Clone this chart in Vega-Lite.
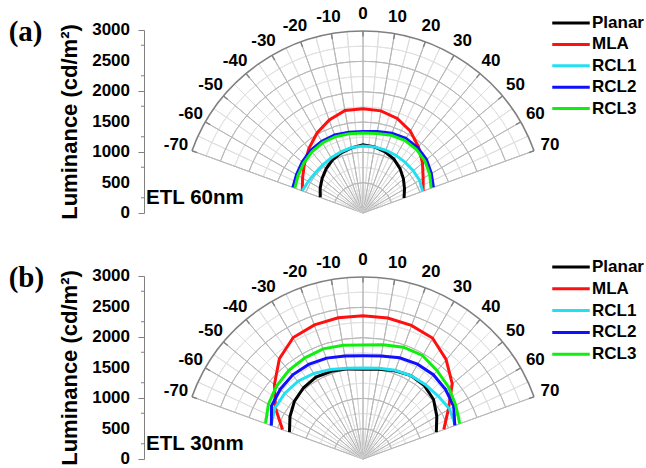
{
  "$schema": "https://vega.github.io/schema/vega-lite/v6.json",
  "background": "white",
  "padding": {"left": 8, "top": 5, "right": 0, "bottom": 0},
  "config": {"view": {"stroke": null}, "font": "Liberation Sans"},
  "spacing": 30,
  "resolve": {"scale": {"color": "independent", "x": "independent", "y": "independent", "theta": "independent", "radius": "independent"}, "legend": {"color": "independent"}, "axis": {"y": "independent"}},
  "datasets": {
    "rings": [{"r": 250}, {"r": 500}, {"r": 750}, {"r": 1000}, {"r": 1250}, {"r": 1500}, {"r": 1750}, {"r": 2000}, {"r": 2250}, {"r": 2500}, {"r": 2750}],
    "minor": [{"v": 250}, {"v": 750}, {"v": 1250}, {"v": 1750}, {"v": 2250}, {"v": 2750}],
    "major": [{"v": 0}, {"v": 500}, {"v": 1000}, {"v": 1500}, {"v": 2000}, {"v": 2500}, {"v": 3000}],
    "spokes": [{"angle": -70}, {"angle": -65}, {"angle": -60}, {"angle": -55}, {"angle": -50}, {"angle": -45}, {"angle": -40}, {"angle": -35}, {"angle": -30}, {"angle": -25}, {"angle": -20}, {"angle": -15}, {"angle": -10}, {"angle": -5}, {"angle": 0}, {"angle": 5}, {"angle": 10}, {"angle": 15}, {"angle": 20}, {"angle": 25}, {"angle": 30}, {"angle": 35}, {"angle": 40}, {"angle": 45}, {"angle": 50}, {"angle": 55}, {"angle": 60}, {"angle": 65}, {"angle": 70}],
    "curves": [
      {"panel": "a", "series": "Planar", "angle": -70, "lum": 750}, {"panel": "a", "series": "Planar", "angle": -60, "lum": 815}, {"panel": "a", "series": "Planar", "angle": -50, "lum": 880}, {"panel": "a", "series": "Planar", "angle": -40, "lum": 945}, {"panel": "a", "series": "Planar", "angle": -30, "lum": 1005}, {"panel": "a", "series": "Planar", "angle": -20, "lum": 1050}, {"panel": "a", "series": "Planar", "angle": -10, "lum": 1085}, {"panel": "a", "series": "Planar", "angle": 0, "lum": 1120}, {"panel": "a", "series": "Planar", "angle": 10, "lum": 1100}, {"panel": "a", "series": "Planar", "angle": 20, "lum": 1065}, {"panel": "a", "series": "Planar", "angle": 30, "lum": 1020}, {"panel": "a", "series": "Planar", "angle": 40, "lum": 950}, {"panel": "a", "series": "Planar", "angle": 50, "lum": 870}, {"panel": "a", "series": "Planar", "angle": 60, "lum": 790}, {"panel": "a", "series": "Planar", "angle": 70, "lum": 720},
      {"panel": "a", "series": "MLA", "angle": -70, "lum": 1065}, {"panel": "a", "series": "MLA", "angle": -60, "lum": 1150}, {"panel": "a", "series": "MLA", "angle": -50, "lum": 1260}, {"panel": "a", "series": "MLA", "angle": -40, "lum": 1385}, {"panel": "a", "series": "MLA", "angle": -30, "lum": 1515}, {"panel": "a", "series": "MLA", "angle": -20, "lum": 1625}, {"panel": "a", "series": "MLA", "angle": -10, "lum": 1705}, {"panel": "a", "series": "MLA", "angle": 0, "lum": 1710}, {"panel": "a", "series": "MLA", "angle": 10, "lum": 1700}, {"panel": "a", "series": "MLA", "angle": 20, "lum": 1650}, {"panel": "a", "series": "MLA", "angle": 30, "lum": 1555}, {"panel": "a", "series": "MLA", "angle": 40, "lum": 1420}, {"panel": "a", "series": "MLA", "angle": 50, "lum": 1280}, {"panel": "a", "series": "MLA", "angle": 60, "lum": 1145}, {"panel": "a", "series": "MLA", "angle": 70, "lum": 1055},
      {"panel": "a", "series": "RCL1", "angle": -70, "lum": 1065}, {"panel": "a", "series": "RCL1", "angle": -60, "lum": 1040}, {"panel": "a", "series": "RCL1", "angle": -50, "lum": 1025}, {"panel": "a", "series": "RCL1", "angle": -40, "lum": 1030}, {"panel": "a", "series": "RCL1", "angle": -30, "lum": 1045}, {"panel": "a", "series": "RCL1", "angle": -20, "lum": 1065}, {"panel": "a", "series": "RCL1", "angle": -10, "lum": 1090}, {"panel": "a", "series": "RCL1", "angle": 0, "lum": 1100}, {"panel": "a", "series": "RCL1", "angle": 10, "lum": 1100}, {"panel": "a", "series": "RCL1", "angle": 20, "lum": 1095}, {"panel": "a", "series": "RCL1", "angle": 30, "lum": 1090}, {"panel": "a", "series": "RCL1", "angle": 40, "lum": 1083}, {"panel": "a", "series": "RCL1", "angle": 50, "lum": 1080}, {"panel": "a", "series": "RCL1", "angle": 60, "lum": 1075}, {"panel": "a", "series": "RCL1", "angle": 70, "lum": 1045},
      {"panel": "a", "series": "RCL2", "angle": -70, "lum": 1230}, {"panel": "a", "series": "RCL2", "angle": -60, "lum": 1265}, {"panel": "a", "series": "RCL2", "angle": -50, "lum": 1305}, {"panel": "a", "series": "RCL2", "angle": -40, "lum": 1342}, {"panel": "a", "series": "RCL2", "angle": -30, "lum": 1360}, {"panel": "a", "series": "RCL2", "angle": -20, "lum": 1360}, {"panel": "a", "series": "RCL2", "angle": -10, "lum": 1345}, {"panel": "a", "series": "RCL2", "angle": 0, "lum": 1335}, {"panel": "a", "series": "RCL2", "angle": 10, "lum": 1355}, {"panel": "a", "series": "RCL2", "angle": 20, "lum": 1390}, {"panel": "a", "series": "RCL2", "angle": 30, "lum": 1412}, {"panel": "a", "series": "RCL2", "angle": 40, "lum": 1400}, {"panel": "a", "series": "RCL2", "angle": 50, "lum": 1365}, {"panel": "a", "series": "RCL2", "angle": 60, "lum": 1300}, {"panel": "a", "series": "RCL2", "angle": 70, "lum": 1235},
      {"panel": "a", "series": "RCL3", "angle": -70, "lum": 1195}, {"panel": "a", "series": "RCL3", "angle": -60, "lum": 1235}, {"panel": "a", "series": "RCL3", "angle": -50, "lum": 1275}, {"panel": "a", "series": "RCL3", "angle": -40, "lum": 1310}, {"panel": "a", "series": "RCL3", "angle": -30, "lum": 1330}, {"panel": "a", "series": "RCL3", "angle": -20, "lum": 1330}, {"panel": "a", "series": "RCL3", "angle": -10, "lum": 1320}, {"panel": "a", "series": "RCL3", "angle": 0, "lum": 1310}, {"panel": "a", "series": "RCL3", "angle": 10, "lum": 1325}, {"panel": "a", "series": "RCL3", "angle": 20, "lum": 1355}, {"panel": "a", "series": "RCL3", "angle": 30, "lum": 1375}, {"panel": "a", "series": "RCL3", "angle": 40, "lum": 1365}, {"panel": "a", "series": "RCL3", "angle": 50, "lum": 1330}, {"panel": "a", "series": "RCL3", "angle": 60, "lum": 1270}, {"panel": "a", "series": "RCL3", "angle": 70, "lum": 1195},
      {"panel": "b", "series": "Planar", "angle": -70, "lum": 1290}, {"panel": "b", "series": "Planar", "angle": -60, "lum": 1390}, {"panel": "b", "series": "Planar", "angle": -50, "lum": 1475}, {"panel": "b", "series": "Planar", "angle": -40, "lum": 1525}, {"panel": "b", "series": "Planar", "angle": -30, "lum": 1550}, {"panel": "b", "series": "Planar", "angle": -20, "lum": 1530}, {"panel": "b", "series": "Planar", "angle": -10, "lum": 1500}, {"panel": "b", "series": "Planar", "angle": 0, "lum": 1470}, {"panel": "b", "series": "Planar", "angle": 10, "lum": 1495}, {"panel": "b", "series": "Planar", "angle": 20, "lum": 1540}, {"panel": "b", "series": "Planar", "angle": 30, "lum": 1580}, {"panel": "b", "series": "Planar", "angle": 40, "lum": 1572}, {"panel": "b", "series": "Planar", "angle": 50, "lum": 1518}, {"panel": "b", "series": "Planar", "angle": 60, "lum": 1405}, {"panel": "b", "series": "Planar", "angle": 70, "lum": 1286},
      {"panel": "b", "series": "MLA", "angle": -70, "lum": 1412}, {"panel": "b", "series": "MLA", "angle": -60, "lum": 1665}, {"panel": "b", "series": "MLA", "angle": -50, "lum": 1905}, {"panel": "b", "series": "MLA", "angle": -40, "lum": 2145}, {"panel": "b", "series": "MLA", "angle": -30, "lum": 2300}, {"panel": "b", "series": "MLA", "angle": -20, "lum": 2340}, {"panel": "b", "series": "MLA", "angle": -10, "lum": 2350}, {"panel": "b", "series": "MLA", "angle": 0, "lum": 2348}, {"panel": "b", "series": "MLA", "angle": 10, "lum": 2347}, {"panel": "b", "series": "MLA", "angle": 20, "lum": 2330}, {"panel": "b", "series": "MLA", "angle": 30, "lum": 2290}, {"panel": "b", "series": "MLA", "angle": 40, "lum": 2130}, {"panel": "b", "series": "MLA", "angle": 50, "lum": 1920}, {"panel": "b", "series": "MLA", "angle": 60, "lum": 1625}, {"panel": "b", "series": "MLA", "angle": 70, "lum": 1418},
      {"panel": "b", "series": "RCL1", "angle": -70, "lum": 1616}, {"panel": "b", "series": "RCL1", "angle": -60, "lum": 1675}, {"panel": "b", "series": "RCL1", "angle": -50, "lum": 1680}, {"panel": "b", "series": "RCL1", "angle": -40, "lum": 1665}, {"panel": "b", "series": "RCL1", "angle": -30, "lum": 1620}, {"panel": "b", "series": "RCL1", "angle": -20, "lum": 1560}, {"panel": "b", "series": "RCL1", "angle": -10, "lum": 1510}, {"panel": "b", "series": "RCL1", "angle": 0, "lum": 1490}, {"panel": "b", "series": "RCL1", "angle": 10, "lum": 1510}, {"panel": "b", "series": "RCL1", "angle": 20, "lum": 1548}, {"panel": "b", "series": "RCL1", "angle": 30, "lum": 1580}, {"panel": "b", "series": "RCL1", "angle": 40, "lum": 1595}, {"panel": "b", "series": "RCL1", "angle": 50, "lum": 1612}, {"panel": "b", "series": "RCL1", "angle": 60, "lum": 1645}, {"panel": "b", "series": "RCL1", "angle": 70, "lum": 1620},
      {"panel": "b", "series": "RCL2", "angle": -70, "lum": 1608}, {"panel": "b", "series": "RCL2", "angle": -60, "lum": 1740}, {"panel": "b", "series": "RCL2", "angle": -50, "lum": 1780}, {"panel": "b", "series": "RCL2", "angle": -40, "lum": 1802}, {"panel": "b", "series": "RCL2", "angle": -30, "lum": 1790}, {"panel": "b", "series": "RCL2", "angle": -20, "lum": 1760}, {"panel": "b", "series": "RCL2", "angle": -10, "lum": 1715}, {"panel": "b", "series": "RCL2", "angle": 0, "lum": 1692}, {"panel": "b", "series": "RCL2", "angle": 10, "lum": 1715}, {"panel": "b", "series": "RCL2", "angle": 20, "lum": 1765}, {"panel": "b", "series": "RCL2", "angle": 30, "lum": 1795}, {"panel": "b", "series": "RCL2", "angle": 40, "lum": 1804}, {"panel": "b", "series": "RCL2", "angle": 50, "lum": 1775}, {"panel": "b", "series": "RCL2", "angle": 60, "lum": 1727}, {"panel": "b", "series": "RCL2", "angle": 70, "lum": 1610},
      {"panel": "b", "series": "RCL3", "angle": -70, "lum": 1709}, {"panel": "b", "series": "RCL3", "angle": -60, "lum": 1800}, {"panel": "b", "series": "RCL3", "angle": -50, "lum": 1860}, {"panel": "b", "series": "RCL3", "angle": -40, "lum": 1900}, {"panel": "b", "series": "RCL3", "angle": -30, "lum": 1915}, {"panel": "b", "series": "RCL3", "angle": -20, "lum": 1922}, {"panel": "b", "series": "RCL3", "angle": -10, "lum": 1895}, {"panel": "b", "series": "RCL3", "angle": 0, "lum": 1868}, {"panel": "b", "series": "RCL3", "angle": 10, "lum": 1900}, {"panel": "b", "series": "RCL3", "angle": 20, "lum": 1950}, {"panel": "b", "series": "RCL3", "angle": 30, "lum": 1960}, {"panel": "b", "series": "RCL3", "angle": 40, "lum": 1895}, {"panel": "b", "series": "RCL3", "angle": 50, "lum": 1840}, {"panel": "b", "series": "RCL3", "angle": 60, "lum": 1765}, {"panel": "b", "series": "RCL3", "angle": 70, "lum": 1697}
    ]
  },
  "vconcat": [
    {
      "width": 438, "height": 183,
      "layer": [
        {
          "data": {"name": "rings"},
          "mark": {"type": "arc", "filled": false, "stroke": "#e2e2e2", "strokeWidth": 1},
          "transform": [{"filter": "datum.r % 500 !== 0"}],
          "encoding": {
            "x": {"datum": 0, "type": "quantitative", "scale": {"domain": [-3610, 3610], "nice": false, "zero": false}, "axis": null},
            "y": {"datum": 0, "type": "quantitative", "scale": {"domain": [0, 3000], "nice": false}, "axis": {"title": "Luminance (cd/m²)", "titleFont": "Liberation Sans", "titleFontSize": 22, "titleFontWeight": "bold", "titleColor": "black", "titlePadding": 56, "values": [0, 500, 1000, 1500, 2000, 2500, 3000], "labels": false, "tickSize": 6, "tickColor": "#808080", "domainColor": "#808080", "grid": false}},
            "theta": {"datum": -70, "type": "quantitative", "scale": {"type": "linear", "domain": [0, 360], "range": [0, 6.283185307179586], "nice": false, "zero": false}},
            "theta2": {"datum": 70},
            "radius": {"field": "r", "type": "quantitative", "scale": {"type": "linear", "domain": [0, 3000], "range": [0, 182], "nice": false, "zero": true}},
            "radius2": {"field": "r"}
          }
        },
        {
          "data": {"name": "spokes"},
          "mark": {"type": "arc", "filled": false, "strokeWidth": 1},
          "encoding": {
            "x": {"datum": 0, "type": "quantitative"},
            "y": {"datum": 0, "type": "quantitative"},
            "theta": {"field": "angle", "type": "quantitative", "stack": null},
            "theta2": {"field": "angle"},
            "radius": {"datum": 3000, "type": "quantitative"},
            "radius2": {"datum": 0},
            "stroke": {"condition": {"test": "datum.angle % 10 === 0", "value": "#b8b8b8"}, "value": "#dedede"}
          }
        },
        {
          "data": {"name": "rings"},
          "mark": {"type": "arc", "filled": false, "stroke": "#b8b8b8", "strokeWidth": 1},
          "transform": [{"filter": "datum.r % 500 === 0"}],
          "encoding": {
            "x": {"datum": 0, "type": "quantitative"},
            "y": {"datum": 0, "type": "quantitative"},
            "theta": {"datum": -70, "type": "quantitative"},
            "theta2": {"datum": 70},
            "radius": {"field": "r", "type": "quantitative"},
            "radius2": {"field": "r"}
          }
        },
        {
          "data": {"values": [{"r": 3000}]},
          "mark": {"type": "arc", "filled": false, "stroke": "#808080", "strokeWidth": 1.6},
          "encoding": {
            "x": {"datum": 0, "type": "quantitative"},
            "y": {"datum": 0, "type": "quantitative"},
            "theta": {"datum": -70, "type": "quantitative"},
            "theta2": {"datum": 70},
            "radius": {"field": "r", "type": "quantitative"},
            "radius2": {"field": "r"}
          }
        },
        {
          "data": {"name": "spokes"},
          "transform": [{"filter": "datum.angle % 10 === 0"}],
          "mark": {"type": "arc", "filled": false, "stroke": "#808080", "strokeWidth": 1.4},
          "encoding": {
            "x": {"datum": 0, "type": "quantitative"},
            "y": {"datum": 0, "type": "quantitative"},
            "theta": {"field": "angle", "type": "quantitative", "stack": null},
            "theta2": {"field": "angle"},
            "radius": {"datum": 3000, "type": "quantitative"},
            "radius2": {"datum": 2910}
          }
        },
        {
          "data": {"name": "minor"},
          "mark": {"type": "tick", "orient": "horizontal", "size": 3, "thickness": 1, "color": "#808080", "xOffset": -1.5, "opacity": 1},
          "encoding": {
            "x": {"datum": -3610, "type": "quantitative"},
            "y": {"field": "v", "type": "quantitative"}
          }
        },
        {
          "data": {"name": "major"},
          "mark": {"type": "text", "font": "Liberation Sans", "fontWeight": "bold", "fontSize": 17, "align": "right", "baseline": "middle", "dx": -14, "color": "black"},
          "encoding": {
            "x": {"datum": -3610, "type": "quantitative"},
            "y": {"field": "v", "type": "quantitative"},
            "text": {"field": "v", "type": "nominal"}
          }
        },
        {
          "data": {"name": "curves"},
          "transform": [
            {"filter": "datum.panel === 'a'"},
            {"calculate": "datum.lum * sin(datum.angle * PI / 180)", "as": "px"},
            {"calculate": "datum.lum * cos(datum.angle * PI / 180)", "as": "py"}
          ],
          "mark": {"type": "line", "strokeWidth": 3, "strokeJoin": "miter"},
          "encoding": {
            "x": {"field": "px", "type": "quantitative"},
            "y": {"field": "py", "type": "quantitative"},
            "color": {"field": "series", "type": "nominal", "scale": {"domain": ["Planar", "MLA", "RCL1", "RCL2", "RCL3"], "range": ["#000000", "#ff1010", "#22e0f0", "#1010ff", "#10ee10"]}, "legend": {"orient": "none", "legendX": 418, "legendY": -16, "title": null, "symbolType": "M-2.5,0H2.5", "symbolSize": 225, "symbolStrokeWidth": 3, "labelFont": "Liberation Sans", "labelFontWeight": "bold", "labelFontSize": 17, "labelColor": "black", "labelOffset": 12, "rowPadding": 4.4}},
            "order": {"field": "angle", "type": "quantitative"}
          }
        },
        {
          "data": {"name": "spokes"},
          "transform": [{"filter": "datum.angle % 10 === 0"}],
          "mark": {"type": "text", "font": "Liberation Sans", "fontWeight": "bold", "fontSize": 17, "radiusOffset": 17, "align": "center", "baseline": "middle", "color": "black"},
          "encoding": {
            "x": {"datum": 0, "type": "quantitative"},
            "y": {"datum": 0, "type": "quantitative"},
            "theta": {"field": "angle", "type": "quantitative", "stack": null},
            "radius": {"datum": 3000, "type": "quantitative"},
            "text": {"field": "angle", "type": "nominal"}
          }
        },
        {
          "data": {"values": [{"label": "ETL 60nm"}]},
          "mark": {"type": "text", "font": "Liberation Sans", "fontWeight": "bold", "fontSize": 20.5, "align": "left", "baseline": "alphabetic", "color": "black"},
          "encoding": {
            "x": {"datum": -3575, "type": "quantitative"},
            "y": {"datum": 150, "type": "quantitative"},
            "text": {"field": "label"}
          }
        },
        {
          "data": {"values": [{"label": "(a)"}]},
          "mark": {"type": "text", "font": "Liberation Serif", "fontWeight": "bold", "fontSize": 29, "align": "left", "baseline": "middle", "color": "black"},
          "encoding": {
            "x": {"datum": -5840, "type": "quantitative"},
            "y": {"datum": 2960, "type": "quantitative"},
            "text": {"field": "label"}
          }
        }
      ]
    },
    {
      "width": 438, "height": 183,
      "layer": [
        {
          "data": {"name": "rings"},
          "mark": {"type": "arc", "filled": false, "stroke": "#e2e2e2", "strokeWidth": 1},
          "transform": [{"filter": "datum.r % 500 !== 0"}],
          "encoding": {
            "x": {"datum": 0, "type": "quantitative", "scale": {"domain": [-3610, 3610], "nice": false, "zero": false}, "axis": null},
            "y": {"datum": 0, "type": "quantitative", "scale": {"domain": [0, 3000], "nice": false}, "axis": {"title": "Luminance (cd/m²)", "titleFont": "Liberation Sans", "titleFontSize": 22, "titleFontWeight": "bold", "titleColor": "black", "titlePadding": 56, "values": [0, 500, 1000, 1500, 2000, 2500, 3000], "labels": false, "tickSize": 6, "tickColor": "#808080", "domainColor": "#808080", "grid": false}},
            "theta": {"datum": -70, "type": "quantitative", "scale": {"type": "linear", "domain": [0, 360], "range": [0, 6.283185307179586], "nice": false, "zero": false}},
            "theta2": {"datum": 70},
            "radius": {"field": "r", "type": "quantitative", "scale": {"type": "linear", "domain": [0, 3000], "range": [0, 182], "nice": false, "zero": true}},
            "radius2": {"field": "r"}
          }
        },
        {
          "data": {"name": "spokes"},
          "mark": {"type": "arc", "filled": false, "strokeWidth": 1},
          "encoding": {
            "x": {"datum": 0, "type": "quantitative"},
            "y": {"datum": 0, "type": "quantitative"},
            "theta": {"field": "angle", "type": "quantitative", "stack": null},
            "theta2": {"field": "angle"},
            "radius": {"datum": 3000, "type": "quantitative"},
            "radius2": {"datum": 0},
            "stroke": {"condition": {"test": "datum.angle % 10 === 0", "value": "#b8b8b8"}, "value": "#dedede"}
          }
        },
        {
          "data": {"name": "rings"},
          "mark": {"type": "arc", "filled": false, "stroke": "#b8b8b8", "strokeWidth": 1},
          "transform": [{"filter": "datum.r % 500 === 0"}],
          "encoding": {
            "x": {"datum": 0, "type": "quantitative"},
            "y": {"datum": 0, "type": "quantitative"},
            "theta": {"datum": -70, "type": "quantitative"},
            "theta2": {"datum": 70},
            "radius": {"field": "r", "type": "quantitative"},
            "radius2": {"field": "r"}
          }
        },
        {
          "data": {"values": [{"r": 3000}]},
          "mark": {"type": "arc", "filled": false, "stroke": "#808080", "strokeWidth": 1.6},
          "encoding": {
            "x": {"datum": 0, "type": "quantitative"},
            "y": {"datum": 0, "type": "quantitative"},
            "theta": {"datum": -70, "type": "quantitative"},
            "theta2": {"datum": 70},
            "radius": {"field": "r", "type": "quantitative"},
            "radius2": {"field": "r"}
          }
        },
        {
          "data": {"name": "spokes"},
          "transform": [{"filter": "datum.angle % 10 === 0"}],
          "mark": {"type": "arc", "filled": false, "stroke": "#808080", "strokeWidth": 1.4},
          "encoding": {
            "x": {"datum": 0, "type": "quantitative"},
            "y": {"datum": 0, "type": "quantitative"},
            "theta": {"field": "angle", "type": "quantitative", "stack": null},
            "theta2": {"field": "angle"},
            "radius": {"datum": 3000, "type": "quantitative"},
            "radius2": {"datum": 2910}
          }
        },
        {
          "data": {"name": "minor"},
          "mark": {"type": "tick", "orient": "horizontal", "size": 3, "thickness": 1, "color": "#808080", "xOffset": -1.5, "opacity": 1},
          "encoding": {
            "x": {"datum": -3610, "type": "quantitative"},
            "y": {"field": "v", "type": "quantitative"}
          }
        },
        {
          "data": {"name": "major"},
          "mark": {"type": "text", "font": "Liberation Sans", "fontWeight": "bold", "fontSize": 17, "align": "right", "baseline": "middle", "dx": -14, "color": "black"},
          "encoding": {
            "x": {"datum": -3610, "type": "quantitative"},
            "y": {"field": "v", "type": "quantitative"},
            "text": {"field": "v", "type": "nominal"}
          }
        },
        {
          "data": {"name": "curves"},
          "transform": [
            {"filter": "datum.panel === 'b'"},
            {"calculate": "datum.lum * sin(datum.angle * PI / 180)", "as": "px"},
            {"calculate": "datum.lum * cos(datum.angle * PI / 180)", "as": "py"}
          ],
          "mark": {"type": "line", "strokeWidth": 3, "strokeJoin": "miter"},
          "encoding": {
            "x": {"field": "px", "type": "quantitative"},
            "y": {"field": "py", "type": "quantitative"},
            "color": {"field": "series", "type": "nominal", "scale": {"domain": ["Planar", "MLA", "RCL1", "RCL2", "RCL3"], "range": ["#000000", "#ff1010", "#22e0f0", "#1010ff", "#10ee10"]}, "legend": {"orient": "none", "legendX": 418, "legendY": -18, "title": null, "symbolType": "M-2.5,0H2.5", "symbolSize": 225, "symbolStrokeWidth": 3, "labelFont": "Liberation Sans", "labelFontWeight": "bold", "labelFontSize": 17, "labelColor": "black", "labelOffset": 12, "rowPadding": 4.8}},
            "order": {"field": "angle", "type": "quantitative"}
          }
        },
        {
          "data": {"name": "spokes"},
          "transform": [{"filter": "datum.angle % 10 === 0"}],
          "mark": {"type": "text", "font": "Liberation Sans", "fontWeight": "bold", "fontSize": 17, "radiusOffset": 17, "align": "center", "baseline": "middle", "color": "black"},
          "encoding": {
            "x": {"datum": 0, "type": "quantitative"},
            "y": {"datum": 0, "type": "quantitative"},
            "theta": {"field": "angle", "type": "quantitative", "stack": null},
            "radius": {"datum": 3000, "type": "quantitative"},
            "text": {"field": "angle", "type": "nominal"}
          }
        },
        {
          "data": {"values": [{"label": "ETL 30nm"}]},
          "mark": {"type": "text", "font": "Liberation Sans", "fontWeight": "bold", "fontSize": 20.5, "align": "left", "baseline": "alphabetic", "color": "black"},
          "encoding": {
            "x": {"datum": -3575, "type": "quantitative"},
            "y": {"datum": 150, "type": "quantitative"},
            "text": {"field": "label"}
          }
        },
        {
          "data": {"values": [{"label": "(b)"}]},
          "mark": {"type": "text", "font": "Liberation Serif", "fontWeight": "bold", "fontSize": 29, "align": "left", "baseline": "middle", "color": "black"},
          "encoding": {
            "x": {"datum": -5840, "type": "quantitative"},
            "y": {"datum": 2960, "type": "quantitative"},
            "text": {"field": "label"}
          }
        }
      ]
    }
  ]
}
